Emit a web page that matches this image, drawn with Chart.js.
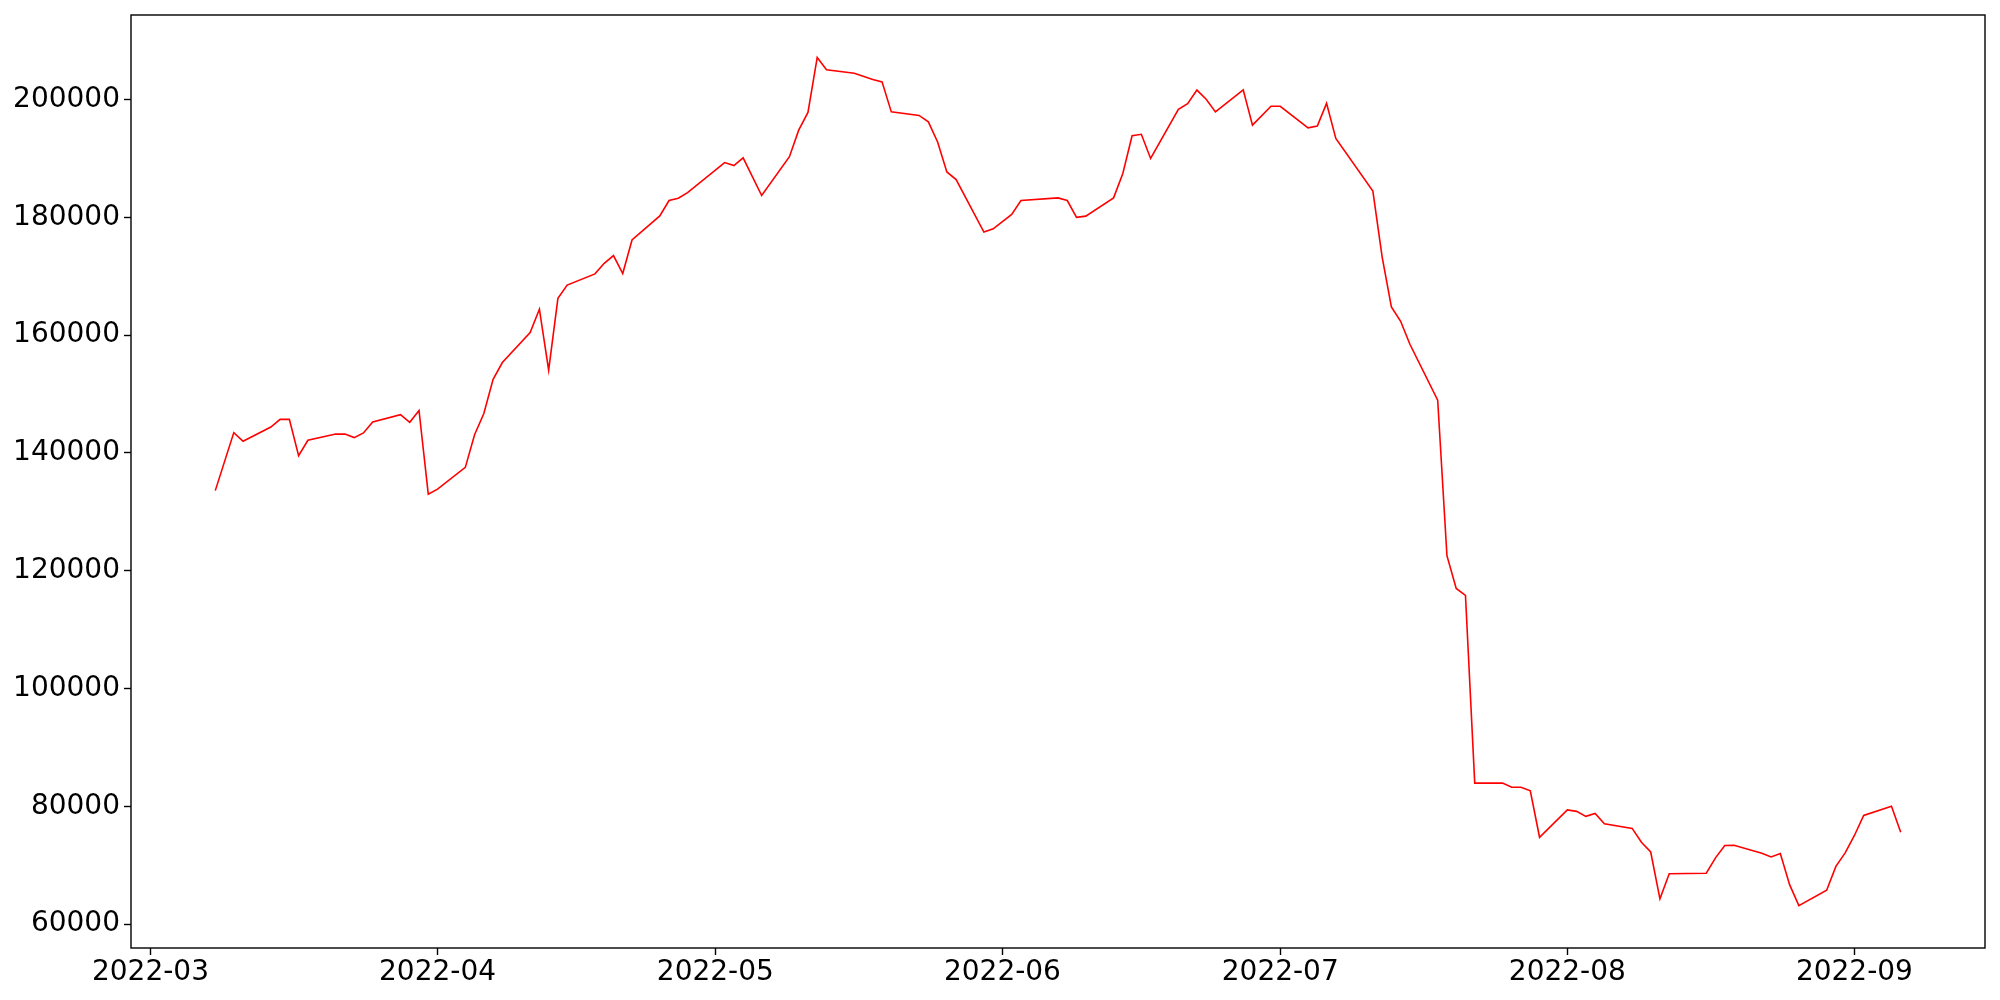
<!DOCTYPE html>
<html>
<head>
<meta charset="utf-8">
<script src="https://cdn.jsdelivr.net/npm/chart.js@4/dist/chart.umd.min.js"></script>
<style>
  html, body { margin: 0; padding: 0; background: #fff; }
  #wrap { width: 2000px; height: 1000px; position: relative; }
</style>
</head>
<body>
<div id="wrap"><canvas id="c" width="2000" height="1000"></canvas></div>
<script>
const dates = [
  '2022-03-08','2022-03-10','2022-03-11','2022-03-14','2022-03-15','2022-03-16','2022-03-17','2022-03-18',
  '2022-03-21','2022-03-22','2022-03-23','2022-03-24','2022-03-25','2022-03-28','2022-03-29','2022-03-30','2022-03-31',
  '2022-04-01','2022-04-04','2022-04-05','2022-04-06','2022-04-07','2022-04-08','2022-04-11','2022-04-12','2022-04-13',
  '2022-04-14','2022-04-15','2022-04-18','2022-04-19','2022-04-20','2022-04-21','2022-04-22','2022-04-25','2022-04-26',
  '2022-04-27','2022-04-28',
  '2022-05-02','2022-05-03','2022-05-04','2022-05-06','2022-05-09','2022-05-10','2022-05-11','2022-05-12','2022-05-13',
  '2022-05-16','2022-05-18','2022-05-19','2022-05-20','2022-05-23','2022-05-24','2022-05-25','2022-05-26','2022-05-27',
  '2022-05-30','2022-05-31',
  '2022-06-02','2022-06-03','2022-06-07','2022-06-08','2022-06-09','2022-06-10','2022-06-13','2022-06-14','2022-06-15',
  '2022-06-16','2022-06-17','2022-06-20','2022-06-21','2022-06-22','2022-06-23','2022-06-24','2022-06-27','2022-06-28',
  '2022-06-30',
  '2022-07-01','2022-07-04','2022-07-05','2022-07-06','2022-07-07','2022-07-11','2022-07-12','2022-07-13','2022-07-14',
  '2022-07-15','2022-07-18','2022-07-19','2022-07-20','2022-07-21','2022-07-22','2022-07-25','2022-07-26','2022-07-27',
  '2022-07-28','2022-07-29',
  '2022-08-01','2022-08-02','2022-08-03','2022-08-04','2022-08-05','2022-08-08','2022-08-09','2022-08-10','2022-08-11',
  '2022-08-12','2022-08-16','2022-08-17','2022-08-18','2022-08-19','2022-08-22','2022-08-23','2022-08-24','2022-08-25',
  '2022-08-26','2022-08-29','2022-08-30','2022-08-31',
  '2022-09-01','2022-09-02','2022-09-05','2022-09-06'
];
const values = [
  133600,143450,141975,144400,145700,145700,139550,142150,
  143200,143200,142600,143400,145250,146500,145200,147200,133000,
  133850,137550,143100,146700,152500,155350,160450,164400,154050,
  166250,168500,170400,172200,173500,170450,176150,180250,182850,
  183250,184200,
  189300,188800,190100,183700,190300,194800,197800,207150,205050,
  204450,203400,203000,197900,197300,196200,192800,187700,186400,
  177500,178050,
  180500,182850,183300,182850,180000,180200,183300,187450,193850,
  194100,190000,198350,199300,201600,200050,197900,201650,195650,
  198850,
  198850,195200,195500,199350,193400,184450,173300,164800,162350,
  158450,148950,122550,117000,115800,83950,83950,83250,83250,
  82650,74750,
  79400,79150,78300,78800,77050,76250,73900,72250,64300,
  68550,68650,71250,73350,73400,72050,71400,72000,66700,
  63150,65750,69800,72100,
  75050,78450,80000,75600
];
const xTickLabels = ['2022-03','2022-04','2022-05','2022-06','2022-07','2022-08','2022-09'];
const yTickValues = [60000,80000,100000,120000,140000,160000,180000,200000];

const BASE = Date.UTC(2022, 2, 1);
function dayNum(s) {
  const p = s.split('-').map(Number);
  return (Date.UTC(p[0], p[1] - 1, p[2] || 1) - BASE) / 86400000;
}
const xTickDays = xTickLabels.map(dayNum);
const labelByDay = {};
xTickLabels.forEach((l, i) => { labelByDay[xTickDays[i]] = l; });

const points = dates.map((d, i) => ({ x: dayNum(d), y: values[i] }));
const xs = points.map(p => p.x), ys = points.map(p => p.y);
const xMinD = Math.min(...xs), xMaxD = Math.max(...xs);
const yMinD = Math.min(...ys), yMaxD = Math.max(...ys);
const xm = (xMaxD - xMinD) * 0.05, ym = (yMaxD - yMinD) * 0.05;

const frame = {
  id: 'frame',
  afterDraw(chart) {
    const a = chart.chartArea, ctx = chart.ctx;
    ctx.save();
    ctx.strokeStyle = '#000';
    ctx.lineWidth = 1.4;
    ctx.strokeRect(a.left, a.top, a.right - a.left, a.bottom - a.top);
    ctx.restore();
  }
};

const font = { family: "'DejaVu Sans', sans-serif", size: 28 };

new Chart(document.getElementById('c'), {
  type: 'line',
  data: {
    datasets: [{
      data: points,
      borderColor: '#ff0000',
      borderWidth: 1.6,
      pointRadius: 0,
      tension: 0,
      fill: false
    }]
  },
  options: {
    responsive: false,
    animation: false,
    devicePixelRatio: 1,
    parsing: false,
    layout: { padding: { top: 15, right: 15, left: 0, bottom: 0 } },
    plugins: { legend: { display: false }, tooltip: { enabled: false } },
    scales: {
      x: {
        type: 'linear',
        min: xMinD - xm,
        max: xMaxD + xm,
        afterBuildTicks(scale) { scale.ticks = xTickDays.map(v => ({ value: v })); },
        afterFit(scale) { scale.height = 52; scale.paddingLeft = 0; scale.paddingRight = 0; },
        border: { display: false },
        grid: { drawOnChartArea: false, drawTicks: true, tickLength: 7, color: '#000', tickWidth: 1.4 },
        ticks: {
          autoSkip: false, maxRotation: 0, minRotation: 0,
          color: '#000', font: font, padding: 1,
          callback: (v) => labelByDay[v] || ''
        }
      },
      y: {
        type: 'linear',
        min: yMinD - ym,
        max: yMaxD + ym,
        afterBuildTicks(scale) { scale.ticks = yTickValues.map(v => ({ value: v })); },
        afterFit(scale) { scale.width = 131; scale.paddingTop = 0; scale.paddingBottom = 0; },
        border: { display: false },
        grid: { drawOnChartArea: false, drawTicks: true, tickLength: 7, color: '#000', tickWidth: 1.4 },
        ticks: {
          color: '#000', font: font, padding: 4,
          callback: (v) => String(v)
        }
      }
    }
  },
  plugins: [frame]
});
</script>
</body>
</html>
